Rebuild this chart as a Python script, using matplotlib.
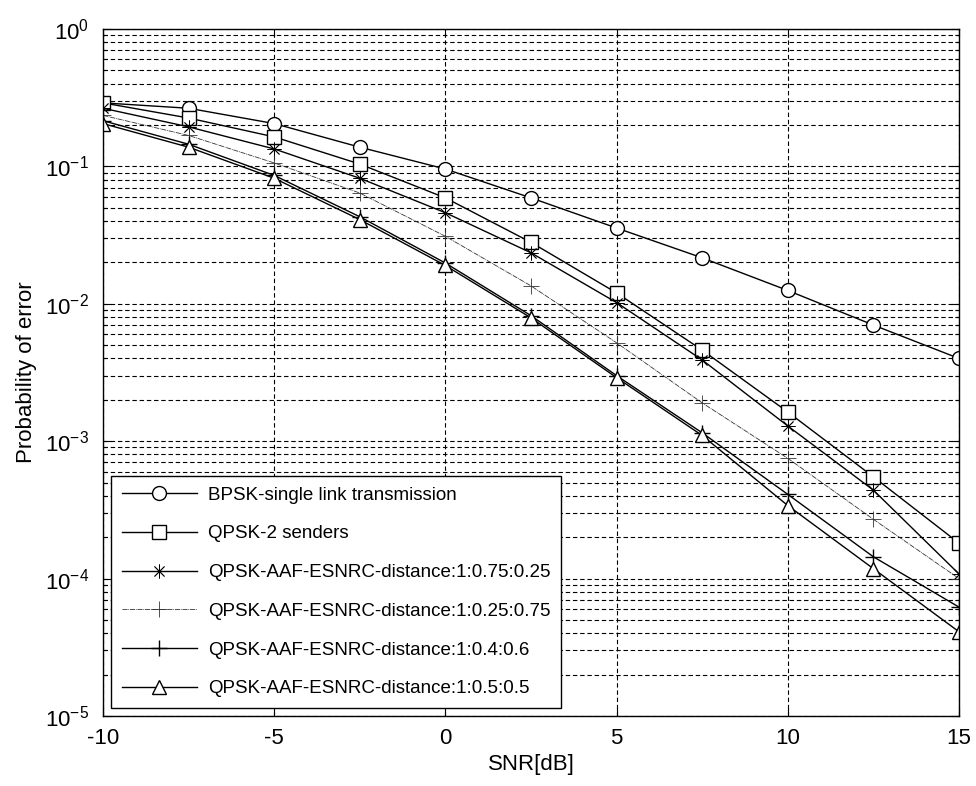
import matplotlib
matplotlib.use("Agg")
import matplotlib.pyplot as plt
from matplotlib.ticker import LogLocator, NullFormatter, FixedLocator

plt.rcParams["font.family"] = ["Liberation Sans", "DejaVu Sans"]
plt.rcParams["mathtext.default"] = "regular"
plt.rcParams["axes.unicode_minus"] = False

# ---- data (SNR in dB, error probability) ----
snr = [-10, -7.5, -5, -2.5, 0, 2.5, 5, 7.5, 10, 12.5, 15]

bpsk_single = [0.29, 0.265, 0.205, 0.138, 0.0957, 0.059, 0.0356, 0.0216, 0.0125, 0.0070, 0.0040]
qpsk_2senders = [0.29, 0.225, 0.164, 0.104, 0.059, 0.028, 0.012, 0.0046, 0.00163, 0.00055, 0.000181]
aaf_075_025 = [0.265, 0.194, 0.134, 0.082, 0.046, 0.0235, 0.0102, 0.0039, 0.00129, 0.00044, 0.000108]
aaf_025_075 = [0.235, 0.168, 0.106, 0.064, 0.031, 0.0135, 0.0052, 0.0019, 0.00075, 0.00027, 0.0001]
aaf_04_06 = [0.215, 0.145, 0.086, 0.043, 0.0198, 0.0082, 0.0030, 0.00115, 0.00041, 0.000144, 6.2e-05]
aaf_05_05 = [0.205, 0.138, 0.082, 0.041, 0.019, 0.0079, 0.0029, 0.0011, 0.00034, 0.000118, 4.1e-05]

labels = [
    "BPSK-single link transmission",
    "QPSK-2 senders",
    "QPSK-AAF-ESNRC-distance:1:0.75:0.25",
    "QPSK-AAF-ESNRC-distance:1:0.25:0.75",
    "QPSK-AAF-ESNRC-distance:1:0.4:0.6",
    "QPSK-AAF-ESNRC-distance:1:0.5:0.5",
]

fig = plt.figure(figsize=(9.76, 7.86), dpi=100)
fig.subplots_adjust(left=0.1055, right=0.9826, top=0.9631, bottom=0.0891)
ax = fig.add_subplot(111)

asterisk = (8, 2, 0)  # matlab style '*': plus and cross overlaid

ax.semilogy(snr, bpsk_single, "k-", marker="o", ms=10, mfc="white", mew=1.0, lw=1.0, label=labels[0])
ax.semilogy(snr, qpsk_2senders, "k-", marker="s", ms=10, mfc="white", mew=1.0, lw=1.0, label=labels[1])
ax.semilogy(snr, aaf_075_025, "k-", marker=asterisk, ms=10, mew=0.6, lw=1.0, label=labels[2])
ax.semilogy(snr, aaf_025_075, color="#333333", ls=(0, (6, 1, 1, 1)), marker="+", ms=11, mew=0.6,
            lw=0.6, label=labels[3])
ax.semilogy(snr, aaf_04_06, "k-", marker="+", ms=12, mew=1.0, lw=1.0, label=labels[4])
ax.semilogy(snr, aaf_05_05, "k-", marker="^", ms=10, mfc="white", mew=1.0, lw=1.0, label=labels[5])

ax.set_xlim(-10, 15)
ax.set_ylim(1e-5, 1)
ax.xaxis.set_major_locator(FixedLocator([-10, -5, 0, 5, 10, 15]))
ax.yaxis.set_major_locator(LogLocator(base=10, numticks=10))
ax.yaxis.set_minor_locator(LogLocator(base=10, subs=range(2, 10), numticks=20))
ax.yaxis.set_minor_formatter(NullFormatter())

# matlab-like dashed grid, including minor decades
grid_kw = dict(color="black", linestyle=(0, (4, 2.5)), linewidth=0.8)
ax.grid(True, which="major", axis="both", **grid_kw)
ax.grid(True, which="minor", axis="y", **grid_kw)

ax.tick_params(which="both", direction="in", top=True, right=True, labelsize=16)
ax.tick_params(axis="x", pad=9)
ax.tick_params(axis="y", pad=10)
ax.tick_params(which="major", length=6, width=0.8)
ax.tick_params(which="minor", length=3, width=0.8)
for s in ax.spines.values():
    s.set_linewidth(1.0)

ax.set_xlabel("SNR[dB]", fontsize=16, labelpad=3)
ax.set_ylabel("Probability of error", fontsize=16, labelpad=6)

leg = ax.legend(loc="lower left", fontsize=13.5, handlelength=4.0, handletextpad=0.6,
                labelspacing=1.15, borderpad=0.55, borderaxespad=0.45, fancybox=False,
                framealpha=1.0, edgecolor="black")
leg.get_frame().set_linewidth(1.0)

fig.savefig("out.png", dpi=100)
